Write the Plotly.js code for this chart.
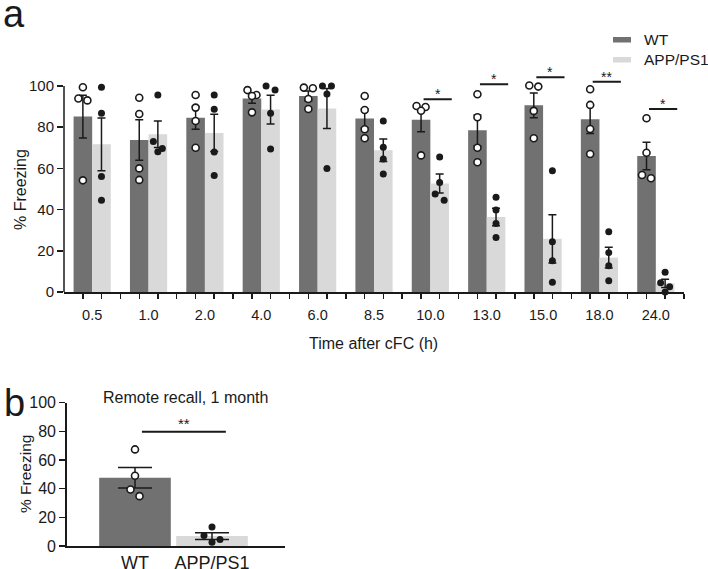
<!DOCTYPE html>
<html>
<head>
<meta charset="utf-8">
<script src="https://cdn.plot.ly/plotly-3.0.1.min.js"></script>
<style>
  html, body { margin: 0; padding: 0; background: #fff; }
  #chart { width: 708px; height: 569px; }
</style>
</head>
<body>
<div id="chart"></div>
<script>
// ---- data ----
const timeLabels = ['0.5', '1.0', '2.0', '4.0', '6.0', '8.5', '10.0', '13.0', '15.0', '18.0', '24.0'];

// individual animals, % freezing (4 per group)
const wtPoints = [
    [99.4, 93.9, 93.0, 54.2],
    [94.3, 86.4, 60.0, 54.4],
    [95.6, 89.5, 83.0, 70.0],
    [98.0, 95.6, 95.1, 87.2],
    [99.2, 98.9, 93.7, 88.8],
    [95.1, 88.3, 79.0, 74.6],
    [90.3, 89.8, 88.0, 66.3],
    [96.0, 84.8, 70.0, 63.0],
    [100.2, 99.7, 87.9, 74.6],
    [98.4, 90.8, 79.1, 67.0],
    [84.3, 67.6, 56.8, 55.2]
];
const appPoints = [
    [99.4, 86.7, 56.1, 44.5],
    [95.6, 73.0, 69.7, 68.1],
    [95.6, 88.7, 68.0, 56.6],
    [100.0, 98.0, 86.7, 69.4],
    [100.0, 100.0, 96.1, 60.0],
    [83.0, 70.2, 64.6, 57.3],
    [65.5, 53.1, 47.6, 44.5],
    [46.0, 39.8, 33.3, 26.4],
    [58.9, 24.4, 15.2, 4.7],
    [29.3, 19.1, 12.8, 5.5],
    [9.6, 4.5, 2.6, 0.0]
];

// significance marks (panel a)
const sigIndex = [6, 7, 8, 9, 10];
const sigText  = ['*', '*', '*', '**', '*'];
const sigLevel = [93.5, 100.8, 104.2, 102.1, 88.8];

// panel b: remote recall, 1 month
const remoteLabels = ['WT', 'APP/PS1'];
const remoteWT  = [67.4, 49.0, 39.4, 34.8];
const remoteAPP = [13.3, 7.3, 4.5, 2.6];
const remoteSigLevel = 79.7;

// ---- helpers ----
const W = 708, H = 569;
const px = v => v / W;        // pixel -> paper x
const py = v => 1 - v / H;    // pixel -> paper y

const FONT = 'Liberation Sans, Arial, sans-serif';
const DARK = '#717171';
const LIGHT = '#d9d9d9';
const INK = '#1a1a1a';

const mean = a => a.reduce((s, v) => s + v, 0) / a.length;
const sem = a => {
    const m = mean(a);
    const sd = Math.sqrt(a.reduce((s, v) => s + (v - m) ** 2, 0) / (a.length - 1));
    return sd / Math.sqrt(a.length);
};

// simple swarm: points closer than one marker in y get nudged left/right
const NUDGE = [[0], [-1, 1], [-1, 1, 0], [-1, 1, -1, 1]];
function swarm(vals, center, pxPerX, pxPerY, diam, half) {
    const order = vals.map((v, i) => i).sort((a, b) => vals[b] - vals[a]);
    const xs = new Array(vals.length);
    let cluster = [order[0]];
    const flush = () => {
        const offs = NUDGE[cluster.length - 1];
        cluster.forEach((i, j) => { xs[i] = center + offs[j] * half / pxPerX; });
    };
    for (let n = 1; n < order.length; n++) {
        const prev = cluster[cluster.length - 1];
        if ((vals[prev] - vals[order[n]]) * pxPerY < diam) {
            cluster.push(order[n]);
        } else {
            flush();
            cluster = [order[n]];
        }
    }
    flush();
    return xs;
}

// ---- panel a ----
const HALF = 0.165;                     // bar centre offset
const A_X = 56.36, A_Y = 2.06;          // px per unit
const idx = timeLabels.map((_, i) => i);

const wtX = [], wtY = [], appX = [], appY = [];
wtPoints.forEach((vals, i) => {
    wtX.push(...swarm(vals, i - HALF, A_X, A_Y, 7, 4.5));
    wtY.push(...vals);
});
appPoints.forEach((vals, i) => {
    appX.push(...swarm(vals, i + HALF, A_X, A_Y, 7, 4.5));
    appY.push(...vals);
});

const errStyle = { type: 'data', color: INK, thickness: 1.5, width: 4 };

const traces = [
    {
        type: 'bar', name: 'WT', x: idx, y: wtPoints.map(mean),
        width: 2 * HALF, offset: -2 * HALF,
        marker: { color: DARK, line: { width: 0 } },
        error_y: { ...errStyle, array: wtPoints.map(sem) },
        xaxis: 'x', yaxis: 'y', hoverinfo: 'skip'
    },
    {
        type: 'bar', name: 'APP/PS1', x: idx, y: appPoints.map(mean),
        width: 2 * HALF, offset: 0,
        marker: { color: LIGHT, line: { width: 0 } },
        error_y: { ...errStyle, array: appPoints.map(sem) },
        xaxis: 'x', yaxis: 'y', hoverinfo: 'skip'
    },
    {
        type: 'scatter', mode: 'markers', x: wtX, y: wtY, cliponaxis: false,
        marker: { size: 7, color: '#fff', line: { color: INK, width: 1.6 } },
        xaxis: 'x', yaxis: 'y', hoverinfo: 'skip'
    },
    {
        type: 'scatter', mode: 'markers', x: appX, y: appY, cliponaxis: false,
        marker: { size: 7, color: INK, line: { color: INK, width: 0 } },
        xaxis: 'x', yaxis: 'y', hoverinfo: 'skip'
    }
];

// ---- panel b ----
const B_X = 77, B_Y = 1.43;
traces.push(
    {
        type: 'bar', x: [0], y: [mean(remoteWT)], width: 0.93,
        marker: { color: DARK, line: { width: 0 } },
        error_y: { ...errStyle, array: [sem(remoteWT)], width: 17 },
        xaxis: 'x2', yaxis: 'y2', hoverinfo: 'skip'
    },
    {
        type: 'bar', x: [1], y: [mean(remoteAPP)], width: 0.93,
        marker: { color: LIGHT, line: { width: 0 } },
        error_y: { ...errStyle, array: [sem(remoteAPP)], width: 17 },
        xaxis: 'x2', yaxis: 'y2', hoverinfo: 'skip'
    },
    {
        type: 'scatter', mode: 'markers', cliponaxis: false,
        x: swarm(remoteWT, 0, B_X, B_Y, 7, 4.5), y: remoteWT,
        marker: { size: 7, color: '#fff', line: { color: INK, width: 1.6 } },
        xaxis: 'x2', yaxis: 'y2', hoverinfo: 'skip'
    },
    {
        type: 'scatter', mode: 'markers', cliponaxis: false,
        x: swarm(remoteAPP, 1, B_X, B_Y, 7, 8), y: remoteAPP,
        marker: { size: 7, color: INK },
        xaxis: 'x2', yaxis: 'y2', hoverinfo: 'skip'
    }
);

// ---- shapes & annotations ----
const shapes = [
    // panel a y axis line, stops at 100
    { type: 'line', xref: 'paper', yref: 'y', x0: px(64), x1: px(64), y0: 0, y1: 100,
      line: { color: INK, width: 1.5 } },
    // legend swatches
    { type: 'rect', xref: 'paper', yref: 'paper', x0: px(613), x1: px(631), y0: py(42.5), y1: py(37),
      fillcolor: DARK, line: { width: 0 } },
    { type: 'rect', xref: 'paper', yref: 'paper', x0: px(613), x1: px(631), y0: py(62.5), y1: py(57),
      fillcolor: LIGHT, line: { width: 0 } },
    // panel b significance line
    { type: 'line', xref: 'x2', yref: 'y2', x0: 0.09, x1: 1.18, y0: remoteSigLevel, y1: remoteSigLevel,
      line: { color: INK, width: 2 } }
];

const label = (text, x, y, size, extra) => Object.assign({
    text, xref: 'paper', yref: 'paper', x: px(x), y: py(y),
    xanchor: 'center', yanchor: 'middle', showarrow: false,
    font: { size, family: FONT, color: INK }
}, extra || {});

const annotations = [
    label('a', 14, 14, 38),
    label('b', 14, 403, 38),
    label('WT', 642, 39.5, 15.5, { xanchor: 'left' }),
    label('APP/PS1', 642, 59.5, 15.5, { xanchor: 'left' }),
    label('% Freezing', 20, 190, 16, { textangle: -90 }),
    label('Time after cFC (h)', 373, 343, 16),
    label('% Freezing', 25, 474, 15.5, { textangle: -90 }),
    label('Remote recall, 1 month', 185, 397, 16),
    { text: '**', xref: 'x2', yref: 'y2', x: 0.635, y: remoteSigLevel, yanchor: 'bottom', yshift: -2,
      showarrow: false, font: { size: 15, family: FONT, color: INK } }
];

sigIndex.forEach((i, k) => {
    shapes.push({ type: 'line', xref: 'x', yref: 'y', x0: i - 0.12, x1: i + 0.38,
        y0: sigLevel[k], y1: sigLevel[k], line: { color: INK, width: 2 } });
    annotations.push({ text: sigText[k], xref: 'x', yref: 'y', x: i + 0.13, y: sigLevel[k],
        yanchor: 'bottom', yshift: -5, showarrow: false,
        font: { size: 14, family: FONT, color: INK } });
});

// minor ticks under each bar and between groups
const minorTicks = [];
idx.forEach(i => minorTicks.push(i - HALF, i + HALF, i + 0.5));

const layout = {
    width: W, height: H,
    margin: { l: 0, r: 0, t: 0, b: 0 },
    paper_bgcolor: '#fff', plot_bgcolor: 'rgba(0,0,0,0)',
    showlegend: false,
    barmode: 'overlay',
    font: { family: FONT, color: INK },
    xaxis: {
        domain: [px(64), px(684)], range: [-0.5, 10.5], anchor: 'y',
        showline: true, linecolor: INK, linewidth: 1.5, zeroline: false, showgrid: false,
        tickmode: 'array', tickvals: idx, ticktext: timeLabels,
        ticks: 'outside', ticklen: 0, tickcolor: INK,
        minor: { tickmode: 'array', tickvals: minorTicks, ticks: 'outside', ticklen: 5, tickwidth: 1.5, tickcolor: INK, showgrid: false },
        ticklabelstandoff: 9,
        tickfont: { size: 14.5, family: FONT, color: INK }
    },
    yaxis: {
        domain: [py(292), py(73.6)], range: [0, 106], anchor: 'x',
        showline: false, zeroline: false, showgrid: false,
        tickmode: 'array', tickvals: [0, 20, 40, 60, 80, 100],
        ticks: 'outside', ticklen: 6, tickwidth: 1.5, tickcolor: INK,
        tickfont: { size: 15, family: FONT, color: INK }
    },
    xaxis2: {
        domain: [px(66.7), px(285)], range: [-0.887, 1.948], anchor: 'y2',
        showline: true, linecolor: INK, linewidth: 1.5, zeroline: false, showgrid: false,
        tickmode: 'array', tickvals: [0, 1], ticktext: remoteLabels, ticks: '',
        ticklabelstandoff: 0,
        tickfont: { size: 18, family: FONT, color: INK }
    },
    yaxis2: {
        domain: [py(546), py(402.7)], range: [0, 100], anchor: 'x2',
        showline: true, linecolor: INK, linewidth: 1.5, zeroline: false, showgrid: false,
        tickmode: 'array', tickvals: [0, 20, 40, 60, 80, 100],
        ticks: 'outside', ticklen: 6, tickwidth: 1.5, tickcolor: INK,
        tickfont: { size: 16, family: FONT, color: INK }
    },
    shapes: shapes,
    annotations: annotations
};

Plotly.newPlot('chart', traces, layout, { staticPlot: true });
</script>
</body>
</html>
